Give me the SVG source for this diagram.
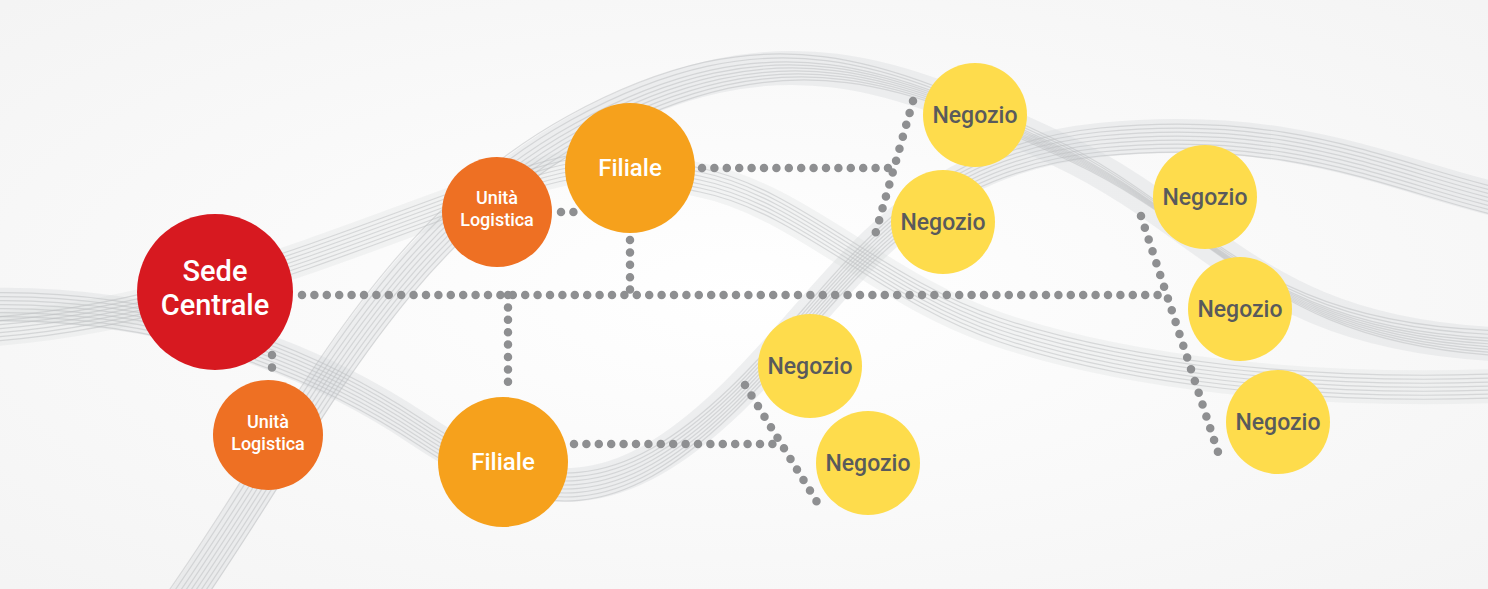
<svg xmlns="http://www.w3.org/2000/svg" xmlns:xlink="http://www.w3.org/1999/xlink" width="1488" height="589" viewBox="0 0 1488 589">
<defs>
<style>
.rib{fill:none;stroke:#bcbec0;stroke-width:1.2;stroke-opacity:0.5}
.ribw{fill:none;stroke:#dcdddf;stroke-width:34;stroke-opacity:0.45}
.dots{fill:none;stroke:#8e8f91;stroke-width:8.5;stroke-linecap:round;stroke-dasharray:0 12.4}
.lbl{font-family:Roboto,"Liberation Sans",sans-serif;font-weight:500;text-anchor:middle}
.w{fill:#ffffff}
.g{fill:#595a5c}
</style>
<radialGradient id="bg" cx="50%" cy="50%" r="70%">
<stop offset="0" stop-color="#ffffff"/>
<stop offset="1" stop-color="#f4f4f4"/>
</radialGradient>
<path id="rA" d="M 170 620 C 300 440, 380 240, 580 130 S 900 75, 1060 150 S 1260 340, 1520 345"/>
<path id="rB" d="M -20 305 C 150 300, 300 350, 420 430 S 620 505, 730 400 S 900 160, 1100 140 S 1400 180, 1520 205"/>
<path id="rC" d="M -20 330 C 150 320, 300 260, 450 205 S 600 160, 700 180 S 880 290, 1000 330 S 1300 395, 1520 385"/>
</defs>
<rect width="1488" height="589" fill="url(#bg)"/>
<g id="background">
<use xlink:href="#rA" class="ribw"/>
<use xlink:href="#rB" class="ribw"/>
<use xlink:href="#rC" class="ribw" style="stroke-opacity:0.3"/>
<use xlink:href="#rA" class="rib"/><use xlink:href="#rA" class="rib" transform="translate(3,3)"/><use xlink:href="#rA" class="rib" transform="translate(6,6)"/><use xlink:href="#rA" class="rib" transform="translate(9,9)"/><use xlink:href="#rA" class="rib" transform="translate(12,12)"/><use xlink:href="#rA" class="rib" transform="translate(-3,-3)"/><use xlink:href="#rA" class="rib" transform="translate(-6,-6)"/><use xlink:href="#rA" class="rib" transform="translate(-9,-10)"/><use xlink:href="#rA" class="rib" transform="translate(-12,-14)"/>
<use xlink:href="#rB" class="rib"/><use xlink:href="#rB" class="rib" transform="translate(0,4)"/><use xlink:href="#rB" class="rib" transform="translate(0,8)"/><use xlink:href="#rB" class="rib" transform="translate(0,12)"/><use xlink:href="#rB" class="rib" transform="translate(0,-4)"/><use xlink:href="#rB" class="rib" transform="translate(0,-8)"/><use xlink:href="#rB" class="rib" transform="translate(0,-12)"/><use xlink:href="#rB" class="rib" transform="translate(0,16)"/>
<use xlink:href="#rC" class="rib"/><use xlink:href="#rC" class="rib" transform="translate(0,4)"/><use xlink:href="#rC" class="rib" transform="translate(0,8)"/><use xlink:href="#rC" class="rib" transform="translate(0,12)"/><use xlink:href="#rC" class="rib" transform="translate(0,-4)"/><use xlink:href="#rC" class="rib" transform="translate(0,-8)"/><use xlink:href="#rC" class="rib" transform="translate(0,-12)"/>
</g>
<g id="connectors">
<path class="dots" d="M 302 295 H 1166"/>
<path class="dots" d="M 630 240 V 295"/>
<path class="dots" d="M 508 295 V 390"/>
<path class="dots" d="M 272 355 V 370"/>
<path class="dots" d="M 561 212 H 574"/>
<path class="dots" d="M 702 168 H 894"/>
<path class="dots" d="M 913 101 L 875 235"/>
<path class="dots" d="M 1141 216 L 1218 452"/>
<path class="dots" d="M 574 444 H 781"/>
<path class="dots" d="M 745 385 L 817 502"/>
</g>
<g id="sede-centrale">
<circle cx="215" cy="292" r="78" fill="#d71920"/>
<text class="lbl w" x="215" y="281" font-size="29">Sede</text>
<text class="lbl w" x="215" y="315" font-size="29">Centrale</text>
</g>
<g id="unita-logistica-1">
<circle cx="497" cy="212" r="55" fill="#ee7023"/>
<text class="lbl w" x="497" y="204" font-size="18">Unità</text>
<text class="lbl w" x="497" y="226" font-size="18">Logistica</text>
</g>
<g id="unita-logistica-2">
<circle cx="268" cy="435" r="55" fill="#ee7023"/>
<text class="lbl w" x="268" y="428" font-size="18">Unità</text>
<text class="lbl w" x="268" y="450" font-size="18">Logistica</text>
</g>
<g id="filiale-1">
<circle cx="630" cy="168" r="65" fill="#f6a11c"/>
<text class="lbl w" x="630" y="176" font-size="24">Filiale</text>
</g>
<g id="filiale-2">
<circle cx="503" cy="462" r="65" fill="#f6a11c"/>
<text class="lbl w" x="503" y="470" font-size="24">Filiale</text>
</g>
<g id="negozio-1">
<circle cx="975" cy="115" r="52" fill="#fedc4c"/>
<text class="lbl g" x="975" y="123" font-size="23">Negozio</text>
</g>
<g id="negozio-2">
<circle cx="943" cy="222" r="52" fill="#fedc4c"/>
<text class="lbl g" x="943" y="230" font-size="23">Negozio</text>
</g>
<g id="negozio-3">
<circle cx="1205" cy="197" r="52" fill="#fedc4c"/>
<text class="lbl g" x="1205" y="205" font-size="23">Negozio</text>
</g>
<g id="negozio-4">
<circle cx="1240" cy="309" r="52" fill="#fedc4c"/>
<text class="lbl g" x="1240" y="317" font-size="23">Negozio</text>
</g>
<g id="negozio-5">
<circle cx="1278" cy="422" r="52" fill="#fedc4c"/>
<text class="lbl g" x="1278" y="430" font-size="23">Negozio</text>
</g>
<g id="negozio-6">
<circle cx="810" cy="366" r="52" fill="#fedc4c"/>
<text class="lbl g" x="810" y="374" font-size="23">Negozio</text>
</g>
<g id="negozio-7">
<circle cx="868" cy="463" r="52" fill="#fedc4c"/>
<text class="lbl g" x="868" y="471" font-size="23">Negozio</text>
</g>
</svg>
